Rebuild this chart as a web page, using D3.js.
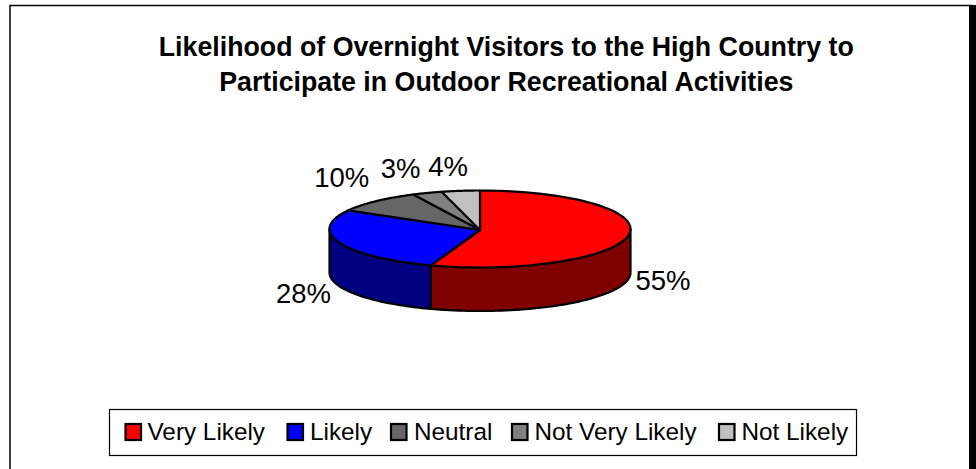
<!DOCTYPE html>
<html><head><meta charset="utf-8">
<script src="https://cdn.jsdelivr.net/npm/d3@7/dist/d3.min.js"></script>
<style>html,body{margin:0;padding:0;background:#fff;overflow:hidden}svg{display:block}text{font-family:"Liberation Sans",Arial,sans-serif;fill:#000}</style>
</head><body><svg id="c" width="976" height="469"></svg>
<script>
const categories=["Very Likely","Likely","Neutral","Not Very Likely","Not Likely"];
const values=[55.3,27.7,9.7,3.2,4.1];
const topColors=["#ff0000","#0000ff","#666666","#808080","#c0c0c0"];
const sideColors=["#800000","#000080","#333333","#404040","#606060"];
const titleLines=["Likelihood of Overnight Visitors to the High Country to","Participate in Outdoor Recreational Activities"];
const labelSpots=[[663,290],[303.5,303],[341.7,186.5],[400.5,177.5],[448,176]];
const legendX=[124.5,286.5,390,511,718];
const legendTextX=[147.5,310,414,534.5,741.5];

const svg=d3.select("#c");
svg.append("rect").attr("x",10).attr("y",5.5).attr("width",961.5).attr("height",470).attr("fill","#fff").attr("stroke","#000").attr("stroke-width",1.5);
svg.append("rect").attr("x",969).attr("y",5).attr("width",7).attr("height",464).attr("fill","#000");

const title=svg.append("text").attr("text-anchor","middle").style("font-weight","bold").style("font-size","26.75px");
[56,91].forEach((y,i)=>title.append("tspan").attr("x",506.3).attr("y",y).text(titleLines[i]));

const cx=480,cy=229,rx=150.5,ry=38.5,depth=43.5;
const px=d3.scaleLinear().domain([-1,1]).range([cx-rx,cx+rx]);
const py=d3.scaleLinear().domain([-1,1]).range([cy+ry,cy-ry]);
const arcs=d3.pie().sort(null).value(d=>d)(values);
const pt=(a,dz=0)=>[px(Math.sin(a)),py(Math.cos(a))+dz];
const samples=(a0,a1,dz=0)=>d3.range(0,61).map(i=>pt(a0+(a1-a0)*i/60,dz));
const line=d3.line();
const g=svg.append("g").attr("stroke","#000").attr("stroke-width",2.2).attr("stroke-linejoin","round");
arcs.forEach((d,i)=>{
  const a0=Math.max(d.startAngle,Math.PI/2),a1=Math.min(d.endAngle,3*Math.PI/2);
  if(a1<=a0)return;
  const pts=samples(a0,a1).concat(samples(a1,a0,depth));
  g.append("path").attr("d",line(pts)+"Z").attr("fill",sideColors[i]);
});
arcs.forEach((d,i)=>{
  const pts=[[cx,cy+1]].concat(samples(d.startAngle,d.endAngle));
  g.append("path").attr("d",line(pts)+"Z").attr("fill",topColors[i]);
});
values.forEach((v,i)=>{
  svg.append("text").attr("x",labelSpots[i][0]).attr("y",labelSpots[i][1]).attr("text-anchor","middle").style("font-size","27.5px").text(Math.round(v)+"%");
});
svg.append("rect").attr("x",109.5).attr("y",409.5).attr("width",747).attr("height",46).attr("fill","#fff").attr("stroke","#000").attr("stroke-width",1.2);
categories.forEach((c,i)=>{
  svg.append("rect").attr("x",legendX[i]+1).attr("y",424).attr("width",15.5).attr("height",16).attr("fill",topColors[i]).attr("stroke","#000").attr("stroke-width",2.2);
  svg.append("text").attr("x",legendTextX[i]).attr("y",440).style("font-size","24.3px").text(c);
});
</script></body></html>
